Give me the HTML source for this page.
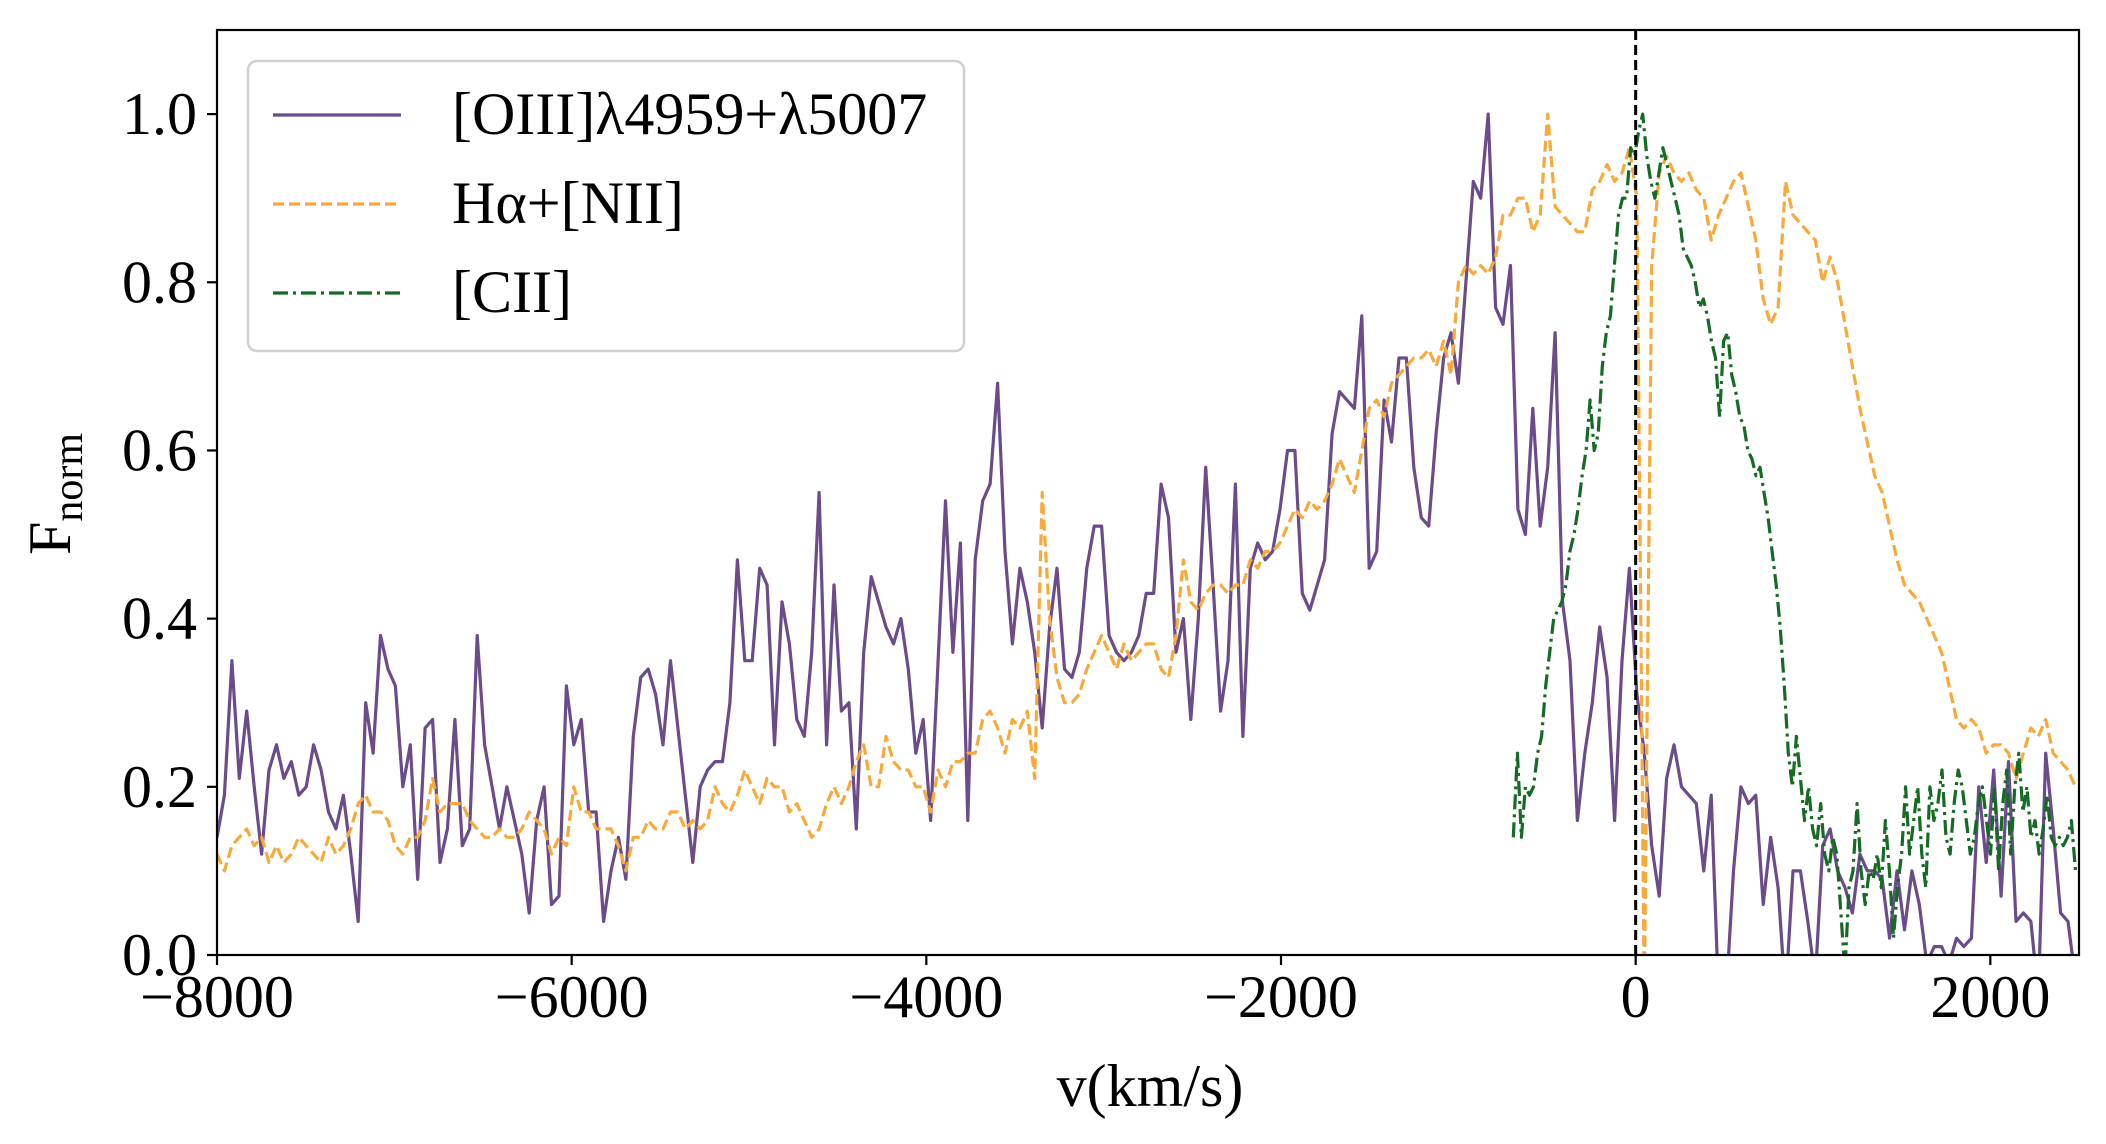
<!DOCTYPE html>
<html><head><meta charset="utf-8"><style>
html,body{margin:0;padding:0;background:#fff;}
svg{display:block;font-family:"Liberation Serif","DejaVu Serif",serif;}
</style></head><body>
<svg id="chart" width="2106" height="1144" viewBox="0 0 2106 1144" xmlns="http://www.w3.org/2000/svg">
<defs><clipPath id="plotclip"><rect x="217" y="30" width="1862" height="925"/></clipPath></defs>
<rect x="0" y="0" width="2106" height="1144" fill="#fff"/>
<g id="series" clip-path="url(#plotclip)"></g>
<g id="axes"></g>
<g id="legend">
<rect x="248" y="61" width="716" height="290" rx="9" fill="#fff" fill-opacity="0.8" stroke="#d0d0d0" stroke-width="2.5"/>
<line x1="273" y1="115" x2="401" y2="115" stroke="#6a4c8a" stroke-width="3.2"/>
<text x="452" y="134" font-size="60">[OIII]λ4959+λ5007</text>
<line x1="273" y1="204" x2="401" y2="204" stroke="#f8a93c" stroke-width="3.2" stroke-dasharray="11,5"/>
<text x="452" y="223" font-size="60">Hα+[NII]</text>
<line x1="273" y1="293" x2="401" y2="293" stroke="#156b23" stroke-width="3.2" stroke-dasharray="15,5,3,5"/>
<text x="452" y="312" font-size="60">[CII]</text>
</g>
<text x="1150" y="1106" font-size="60" text-anchor="middle">v(km/s)</text>
<text transform="translate(70,494) rotate(-90)" font-size="60" text-anchor="middle">F<tspan font-size="42" dy="12">norm</tspan></text>
</svg>
<script>
const xTicks = [-8000, -6000, -4000, -2000, 0, 2000];
const yTicks = [0.0, 0.2, 0.4, 0.6, 0.8, 1.0];
const yTickLabels = ["0.0", "0.2", "0.4", "0.6", "0.8", "1.0"];
const xTickLabels = ["\u22128000", "\u22126000", "\u22124000", "\u22122000", "0", "2000"];
const oiiiRange = [-8000, 2480];
const oiiiValues = [0.14,0.19,0.35,0.21,0.29,0.2,0.12,0.22,0.25,0.21,0.23,0.19,0.2,0.25,0.22,0.17,0.15,0.19,0.12,0.04,0.3,0.24,0.38,0.34,0.32,0.2,0.25,0.09,0.27,0.28,0.11,0.15,0.28,0.13,0.15,0.38,0.25,0.2,0.15,0.2,0.16,0.12,0.05,0.16,0.2,0.06,0.07,0.32,0.25,0.28,0.17,0.17,0.04,0.1,0.14,0.09,0.26,0.33,0.34,0.31,0.25,0.35,0.27,0.19,0.11,0.2,0.22,0.23,0.23,0.3,0.47,0.35,0.35,0.46,0.44,0.25,0.42,0.37,0.28,0.26,0.36,0.55,0.25,0.44,0.29,0.3,0.15,0.36,0.45,0.42,0.39,0.37,0.4,0.34,0.24,0.28,0.16,0.35,0.54,0.36,0.49,0.16,0.47,0.54,0.56,0.68,0.48,0.37,0.46,0.42,0.36,0.27,0.39,0.46,0.34,0.33,0.36,0.46,0.51,0.51,0.38,0.36,0.35,0.36,0.38,0.43,0.43,0.56,0.52,0.36,0.4,0.28,0.4,0.58,0.44,0.29,0.35,0.56,0.26,0.46,0.49,0.47,0.48,0.53,0.6,0.6,0.43,0.41,0.44,0.47,0.62,0.67,0.66,0.65,0.76,0.46,0.48,0.66,0.61,0.71,0.71,0.58,0.52,0.51,0.62,0.71,0.74,0.68,0.8,0.92,0.9,1.0,0.77,0.75,0.82,0.53,0.5,0.65,0.51,0.58,0.74,0.42,0.35,0.16,0.24,0.3,0.39,0.33,0.16,0.35,0.46,0.31,0.24,0.13,0.07,0.21,0.25,0.2,0.19,0.18,0.1,0.19,-0.05,-0.05,0.1,0.2,0.18,0.19,0.06,0.14,0.08,-0.05,0.1,0.1,0.04,-0.03,0.13,0.15,0.1,0.08,0.05,0.12,0.1,0.1,0.09,0.02,0.1,0.03,0.1,0.06,-0.01,0.01,0.01,-0.01,0.02,0.01,0.02,0.2,0.11,0.22,0.07,0.23,0.04,0.05,0.04,-0.05,0.24,0.15,0.05,0.04,-0.03];
const halphaRange = [-8000, 2480];
const halphaValues = [0.12,0.1,0.13,0.14,0.15,0.13,0.14,0.11,0.13,0.11,0.12,0.14,0.13,0.12,0.11,0.14,0.12,0.13,0.15,0.18,0.19,0.17,0.17,0.16,0.13,0.12,0.14,0.14,0.16,0.21,0.17,0.18,0.18,0.18,0.16,0.15,0.14,0.14,0.15,0.14,0.14,0.15,0.17,0.16,0.15,0.12,0.14,0.13,0.2,0.17,0.17,0.15,0.15,0.15,0.13,0.1,0.14,0.14,0.16,0.15,0.15,0.17,0.17,0.15,0.16,0.15,0.16,0.2,0.18,0.17,0.19,0.22,0.2,0.18,0.21,0.2,0.2,0.17,0.18,0.16,0.14,0.15,0.18,0.2,0.18,0.2,0.23,0.25,0.2,0.2,0.26,0.23,0.22,0.22,0.2,0.2,0.17,0.22,0.2,0.23,0.23,0.24,0.24,0.28,0.29,0.27,0.24,0.28,0.27,0.29,0.21,0.55,0.4,0.33,0.3,0.3,0.31,0.34,0.36,0.38,0.36,0.34,0.37,0.35,0.36,0.37,0.37,0.34,0.33,0.38,0.47,0.42,0.41,0.43,0.44,0.44,0.43,0.44,0.44,0.47,0.46,0.48,0.48,0.49,0.51,0.53,0.52,0.54,0.53,0.54,0.56,0.59,0.57,0.55,0.6,0.65,0.66,0.64,0.68,0.69,0.7,0.71,0.71,0.72,0.7,0.73,0.69,0.8,0.82,0.81,0.82,0.81,0.83,0.88,0.88,0.9,0.9,0.86,0.88,1.0,0.89,0.88,0.87,0.86,0.86,0.91,0.92,0.94,0.92,0.93,0.96,0.9,-0.05,0.82,0.93,0.95,0.93,0.92,0.93,0.91,0.9,0.85,0.88,0.9,0.92,0.93,0.89,0.85,0.78,0.75,0.77,0.92,0.88,0.87,0.86,0.85,0.8,0.83,0.8,0.75,0.7,0.65,0.61,0.57,0.55,0.51,0.47,0.44,0.43,0.42,0.4,0.38,0.36,0.32,0.28,0.27,0.28,0.27,0.24,0.25,0.25,0.24,0.21,0.24,0.27,0.26,0.28,0.24,0.23,0.22,0.2];
const ciiRange = [-690, 2480];
const ciiValues = [0.14,0.24,0.14,0.2,0.19,0.2,0.24,0.26,0.32,0.36,0.4,0.41,0.42,0.44,0.48,0.5,0.53,0.57,0.6,0.66,0.6,0.62,0.7,0.74,0.76,0.82,0.88,0.9,0.9,0.96,0.95,0.98,1.0,0.95,0.92,0.9,0.93,0.96,0.94,0.92,0.9,0.88,0.84,0.83,0.82,0.8,0.77,0.78,0.76,0.73,0.71,0.64,0.73,0.74,0.69,0.67,0.64,0.63,0.6,0.59,0.57,0.58,0.55,0.52,0.48,0.44,0.39,0.32,0.24,0.2,0.26,0.21,0.16,0.2,0.15,0.13,0.18,0.12,0.1,0.14,0.12,0.05,-0.02,0.08,0.1,0.18,0.1,0.06,0.1,0.09,0.12,0.08,0.16,0.1,0.02,0.08,0.12,0.2,0.12,0.16,0.2,0.12,0.08,0.2,0.16,0.18,0.22,0.14,0.12,0.18,0.22,0.2,0.16,0.12,0.14,0.18,0.2,0.16,0.12,0.2,0.1,0.18,0.22,0.12,0.2,0.24,0.17,0.2,0.14,0.16,0.12,0.15,0.19,0.14,0.13,0.14,0.13,0.14,0.16,0.1];

const X0 = 217, X1 = 2079, Y0 = 955, Y1 = 30;
const xMin = -8000, xMax = 2500, yMin = 0, yMax = 1.1;
function xs(v){ return X0 + (v - xMin) / (xMax - xMin) * (X1 - X0); }
function ys(v){ return Y0 - (v - yMin) / (yMax - yMin) * (Y0 - Y1); }
const NS = "http://www.w3.org/2000/svg";
function mk(tag, attrs){ const e = document.createElementNS(NS, tag); for (const k in attrs) e.setAttribute(k, attrs[k]); return e; }

const series = document.getElementById('series');
function drawSeries(range, vals, color, dash, name){
  const n = vals.length;
  let d = '';
  for (let i = 0; i < n; i++){
    const v = range[0] + (range[1] - range[0]) * i / (n - 1);
    d += (i ? 'L' : 'M') + xs(v).toFixed(1) + ',' + ys(vals[i]).toFixed(1);
  }
  const p = mk('path', {d: d, fill: 'none', stroke: color, 'stroke-width': 3.2, 'stroke-linejoin': 'round'});
  if (dash) p.setAttribute('stroke-dasharray', dash);
  
  
  series.appendChild(p);
}
drawSeries(oiiiRange, oiiiValues, '#6a4c8a', null, 'oiii-series-line');
drawSeries(halphaRange, halphaValues, '#f8a93c', '11,5', 'halpha-series-line');
drawSeries(ciiRange, ciiValues, '#156b23', '15,5,3,5', 'cii-series-line');
const zl = mk('line', {x1: xs(0), x2: xs(0), y1: Y1, y2: Y0, stroke: '#000', 'stroke-width': 3, 'stroke-dasharray': '10,5'});


series.appendChild(zl);

const axes = document.getElementById('axes');
const frame = mk('rect', {x: X0, y: Y1, width: X1 - X0, height: Y0 - Y1, fill: 'none', stroke: '#000', 'stroke-width': 2.2});


axes.appendChild(frame);
xTicks.forEach((t, i) => {
  const x = xs(t);
  const tk = mk('line', {x1: x, x2: x, y1: Y0, y2: Y0 + 10, stroke: '#000', 'stroke-width': 2.2});
  
  
  axes.appendChild(tk);
  const lb = mk('text', {x: x, y: Y0 + 62, 'font-size': 60, 'text-anchor': 'middle'});
  lb.textContent = xTickLabels[i];
  
  
  axes.appendChild(lb);
});
yTicks.forEach((t, i) => {
  const y = ys(t);
  const tk = mk('line', {x1: X0 - 10, x2: X0, y1: y, y2: y, stroke: '#000', 'stroke-width': 2.2});
  
  
  axes.appendChild(tk);
  const lb = mk('text', {x: X0 - 20, y: y + 20, 'font-size': 60, 'text-anchor': 'end'});
  lb.textContent = yTickLabels[i];
  
  
  axes.appendChild(lb);
});
</script>
</body></html>
